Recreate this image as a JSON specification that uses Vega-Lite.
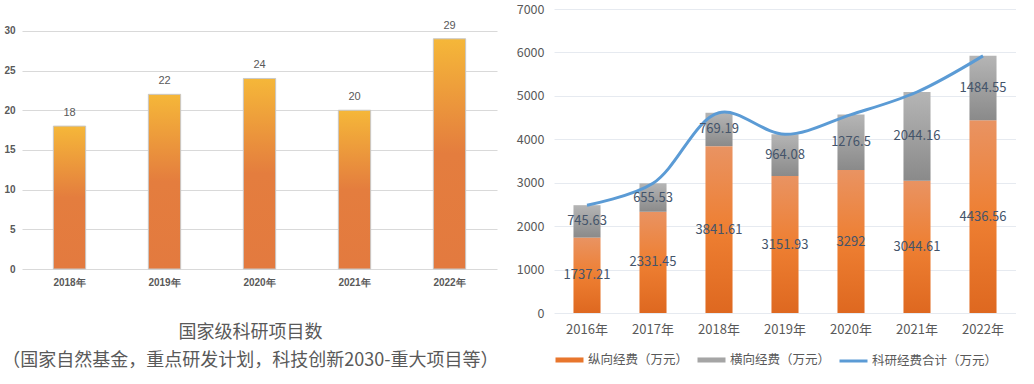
{
  "$schema": "https://vega.github.io/schema/vega-lite/v6.json",
  "padding": {"left": 2, "top": 3, "right": 0, "bottom": 0},
  "background": "white",
  "config": {"view": {"stroke": null}, "font": "Noto Sans CJK SC", "concat": {"spacing": 17}},
  "resolve": {"legend": {"color": "independent"}, "scale": {"color": "independent"}},
  "hconcat": [
    {
      "width": 475,
      "height": 260,
      "data": {"values": [
        {"year": "2018年", "count": 18},
        {"year": "2019年", "count": 22},
        {"year": "2020年", "count": 24},
        {"year": "2021年", "count": 20},
        {"year": "2022年", "count": 29}
      ]},
      "title": {
        "text": ["国家级科研项目数", "（国家自然基金，重点研发计划，科技创新2030-重大项目等）"],
        "orient": "bottom", "anchor": "middle", "frame": "bounds",
        "fontSize": 18, "fontWeight": "normal", "color": "#595959",
        "lineHeight": 28, "offset": 37, "font": "Noto Sans CJK SC"
      },
      "encoding": {
        "x": {"field": "year", "type": "nominal", "sort": null,
          "scale": {"paddingInner": 0.66, "paddingOuter": 0.33},
          "axis": {"title": null, "labelAngle": 0, "ticks": false, "domain": false,
            "labelFont": "Liberation Sans", "labelFontWeight": "bold", "labelFontSize": 10,
            "labelColor": "#595959", "labelPadding": 8}},
        "y": {"field": "count", "type": "quantitative",
          "scale": {"domain": [0, 32.75], "nice": false},
          "axis": {"title": null, "values": [0, 5, 10, 15, 20, 25, 30], "ticks": false, "domain": false,
            "labelFont": "Liberation Sans", "labelFontWeight": "bold", "labelFontSize": 10,
            "labelColor": "#595959", "labelPadding": 7, "gridColor": "#D9D9D9"}}
      },
      "layer": [
        {"mark": {"type": "bar", "stroke": "#C8C8C8", "strokeWidth": 1,
          "fill": {"gradient": "linear", "x1": 0, "y1": 1, "x2": 0, "y2": 0,
            "stops": [{"offset": 0, "color": "#E37A3F"}, {"offset": 0.5, "color": "#E47D3E"}, {"offset": 1, "color": "#F5B739"}]}}},
        {"mark": {"type": "text", "dy": -13, "fontSize": 11, "fill": "#595959", "font": "Liberation Sans"},
          "encoding": {"text": {"field": "count", "type": "nominal"}}}
      ]
    },
    {
      "width": 462,
      "height": 304,
      "data": {"values": [
        {"year": "2016年", "纵向经费（万元）": 1737.21, "横向经费（万元）": 745.63, "科研经费合计（万元）": 2482.84},
        {"year": "2017年", "纵向经费（万元）": 2331.45, "横向经费（万元）": 655.53, "科研经费合计（万元）": 2986.98},
        {"year": "2018年", "纵向经费（万元）": 3841.61, "横向经费（万元）": 769.19, "科研经费合计（万元）": 4610.80},
        {"year": "2019年", "纵向经费（万元）": 3151.93, "横向经费（万元）": 964.08, "科研经费合计（万元）": 4116.01},
        {"year": "2020年", "纵向经费（万元）": 3292, "横向经费（万元）": 1276.5, "科研经费合计（万元）": 4568.5},
        {"year": "2021年", "纵向经费（万元）": 3044.61, "横向经费（万元）": 2044.16, "科研经费合计（万元）": 5088.77},
        {"year": "2022年", "纵向经费（万元）": 4436.56, "横向经费（万元）": 1484.55, "科研经费合计（万元）": 5921.11}
      ]},
      "resolve": {"scale": {"y": "independent"}},
      "encoding": {
        "x": {"field": "year", "type": "nominal", "sort": null,
          "scale": {"paddingInner": 0.59, "paddingOuter": 0.295},
          "axis": {"title": null, "labelAngle": 0, "ticks": false, "domain": false,
            "labelFontSize": 13, "labelColor": "#595959", "labelPadding": 10}}
      },
      "layer": [
        {
          "transform": [{"fold": ["纵向经费（万元）", "横向经费（万元）", "科研经费合计（万元）"], "as": ["series", "amount"]}],
          "mark": {"type": "bar", "opacity": 0},
          "encoding": {
            "color": {"field": "series", "type": "nominal",
              "scale": {"domain": ["纵向经费（万元）", "横向经费（万元）", "科研经费合计（万元）"], "range": ["#E8762D", "#A5A5A5", "#5B9BD5"]},
              "legend": {"orient": "bottom", "direction": "horizontal", "title": null,
                "labelFontSize": 12.5, "labelColor": "#595959", "symbolSize": 784, "labelOffset": 3,
                "columnPadding": 2, "offset": 8,
                "encode": {"symbols": {"update": {
                  "shape": {"signal": "datum.value === '科研经费合计（万元）' ? 'stroke' : 'M-1,-0.18H1V0.18H-1Z'"},
                  "stroke": {"signal": "datum.value === '科研经费合计（万元）' ? '#5B9BD5' : 'transparent'"},
                  "strokeWidth": {"value": 3},
                  "opacity": {"value": 1}
                }}}}}
          }
        },
        {
          "mark": {"type": "bar",
            "fill": {"gradient": "linear", "x1": 0, "y1": 1, "x2": 0, "y2": 0,
              "stops": [{"offset": 0, "color": "#DE6820"}, {"offset": 0.5, "color": "#EE7F32"}, {"offset": 1, "color": "#E99362"}]}},
          "encoding": {
            "y": {"field": "纵向经费（万元）", "type": "quantitative",
              "scale": {"domain": [0, 7000], "nice": false},
              "axis": {"title": null, "values": [0, 1000, 2000, 3000, 4000, 5000, 6000, 7000], "format": "d", "ticks": false, "domain": false,
                "labelFontSize": 12.5, "labelColor": "#595959", "labelPadding": 10, "gridColor": "#E6EAF0"}}
          }
        },
        {
          "mark": {"type": "bar",
            "fill": {"gradient": "linear", "x1": 0, "y1": 1, "x2": 0, "y2": 0,
              "stops": [{"offset": 0, "color": "#8A8A8A"}, {"offset": 1, "color": "#B5B5B5"}]}},
          "encoding": {
            "y": {"field": "纵向经费（万元）", "type": "quantitative", "scale": {"domain": [0, 7000], "nice": false}, "axis": null},
            "y2": {"field": "科研经费合计（万元）"}
          }
        },
        {
          "mark": {"type": "line", "interpolate": "catmull-rom", "color": "#5B9BD5", "strokeWidth": 3},
          "encoding": {
            "y": {"field": "科研经费合计（万元）", "type": "quantitative", "scale": {"domain": [0, 7000], "nice": false}, "axis": null}
          }
        },
        {
          "mark": {"type": "text", "fontSize": 13, "color": "#44546A"},
          "encoding": {
            "y": {"field": "纵向经费（万元）", "type": "quantitative", "scale": {"domain": [0, 14000], "nice": false}, "axis": null},
            "text": {"field": "纵向经费（万元）", "type": "nominal"}
          }
        },
        {
          "transform": [
            {"fold": ["纵向经费（万元）", "科研经费合计（万元）"], "as": ["k", "val"]},
            {"stack": "val", "groupby": ["year"], "sort": [{"field": "k", "order": "descending"}], "as": ["s0", "s1"]},
            {"filter": "datum.k === '科研经费合计（万元）'"}
          ],
          "mark": {"type": "text", "fontSize": 13, "color": "#44546A"},
          "encoding": {
            "y": {"field": "s1", "type": "quantitative", "scale": {"domain": [0, 14000], "nice": false}, "axis": null},
            "text": {"field": "横向经费（万元）", "type": "nominal"}
          }
        }
      ]
    }
  ]
}
